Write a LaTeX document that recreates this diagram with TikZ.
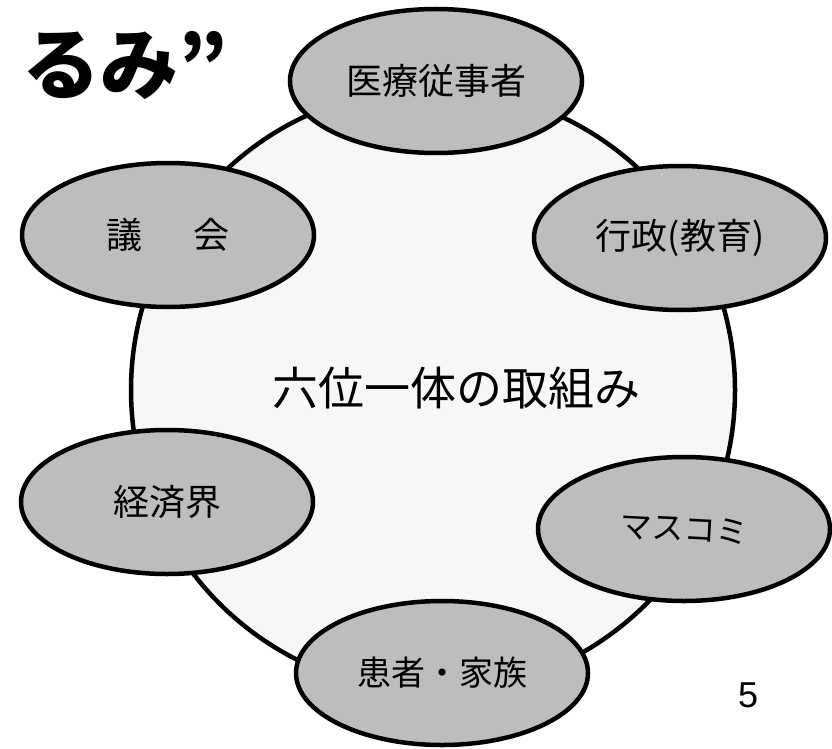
\documentclass[tikz,border=0pt]{standalone}
\usepackage{fontspec}
\setmainfont{Noto Sans CJK JP}
\newfontfamily\numfont{Liberation Sans}
\usetikzlibrary{shapes.geometric}
\begin{document}
\begin{tikzpicture}[x=1pt,y=-1pt,
  ring/.style={circle, draw=black, line width=4.5pt, fill=black!3, minimum size=604pt, inner sep=0pt},
  role/.style={ellipse, draw=black, line width=4.5pt, fill=gray!52!white, minimum width=292pt, minimum height=144pt, inner sep=0pt, font=\fontsize{36}{40}\selectfont},
  theme/.style={inner sep=0pt, font=\fontsize{46}{50}\selectfont}
]
\useasboundingbox (0,0) rectangle (832,749);
\fill[white] (0,0) rectangle (832,749);
\node[ring] (ring) at (433,390) {};
\node[theme] (theme) at (456,388) {六位一体の取組み};
\node[role] (med) at (436,81) {医療従事者};
\node[role] (gikai) at (168,235) {議\hspace{52pt}会};
\node[role] (gyosei) at (680,238) {行政(教育)};
\node[role] (keizai) at (167,502) {経済界};
\node[role, font=\fontsize{32}{36}\selectfont] (masukomi) at (684,529) {\rotatebox{-3}{マスコミ}};
\node[role, font=\fontsize{34}{38}\selectfont] (kanja) at (442,673) {\raisebox{-8pt}{患者・家族}};
\node[anchor=west, inner sep=0pt, font=\fontsize{78}{82}\selectfont\bfseries] (title) at (22,65) {るみ”};
\node[inner sep=0pt, font=\numfont\fontsize{36}{40}\selectfont] (page) at (748,695) {5};
\end{tikzpicture}
\end{document}
